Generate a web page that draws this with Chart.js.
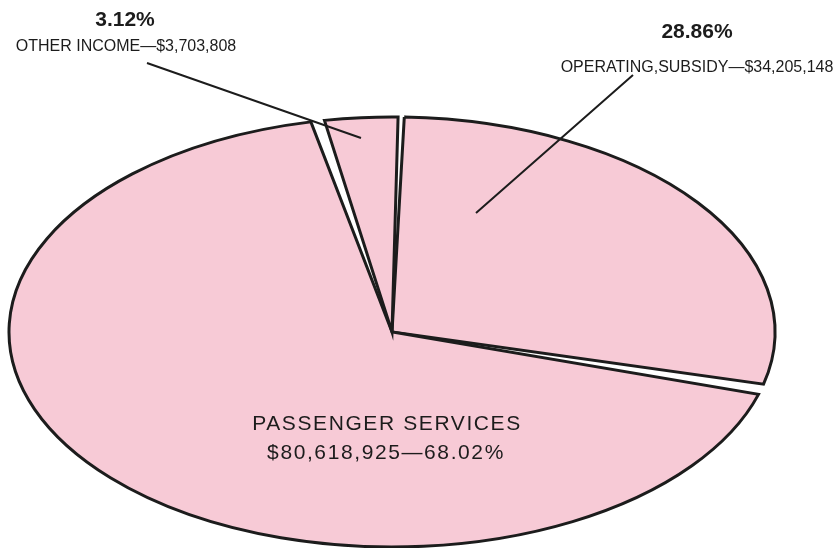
<!DOCTYPE html>
<html>
<head>
<meta charset="utf-8">
<script src="https://cdn.jsdelivr.net/npm/chart.js@4.4.1/dist/chart.umd.min.js"></script>
<style>
  html, body { margin: 0; padding: 0; background: #ffffff; }
  #wrap { width: 838px; height: 548px; position: relative; }
</style>
</head>
<body>
<div id="wrap"><canvas id="c" width="838" height="548"></canvas></div>
<script>
// ---- data (clockwise from the top) ----
const categories = ['OPERATING,SUBSIDY', 'PASSENGER SERVICES', 'OTHER INCOME'];
const amounts = [34205148, 80618925, 3703808];
const amountLabels = ['$34,205,148', '$80,618,925', '$3,703,808'];
const percentLabels = ['28.86%', '68.02%', '3.12%'];

// ---- layout / style ----
const PINK = '#F7CAD6';
const INK = '#1c1c1c';
const CX = 392;            // pie centre x (canvas px)
const RY = 215;            // vertical radius as drawn
const RX = 383;            // horizontal radius (ellipse)
const SX = RX / RY;
const SPACING = 3.5;

const ellipsePlugin = {
  id: 'ellipse',
  beforeDatasetsDraw(chart) {
    const ctx = chart.ctx;
    ctx.save();
    const base = ctx.getTransform();
    ctx.translate(CX, 0);
    ctx.scale(SX, 1);
    ctx.translate(-CX, 0);
    const proto = CanvasRenderingContext2D.prototype.stroke;
    ctx.stroke = function () {
      this.save();
      this.setTransform(base);
      proto.apply(this, arguments);
      this.restore();
    };
  },
  afterDatasetsDraw(chart) {
    const ctx = chart.ctx;
    delete ctx.stroke;
    ctx.restore();
  }
};

const labelPlugin = {
  id: 'labels',
  afterDraw(chart) {
    const ctx = chart.ctx;
    ctx.save();
    ctx.fillStyle = INK;
    ctx.strokeStyle = INK;
    ctx.textAlign = 'center';
    ctx.textBaseline = 'alphabetic';

    // Other income
    ctx.font = 'bold 21px "Liberation Sans", Arial, sans-serif';
    ctx.fillText(percentLabels[2], 125, 26);
    ctx.font = '16px "Liberation Sans", Arial, sans-serif';
    ctx.fillText(categories[2] + '\u2014' + amountLabels[2], 126, 51);

    // Operating subsidy
    ctx.font = 'bold 21px "Liberation Sans", Arial, sans-serif';
    ctx.fillText(percentLabels[0], 697, 38);
    ctx.font = '16px "Liberation Sans", Arial, sans-serif';
    ctx.fillText(categories[0] + '\u2014' + amountLabels[0], 697, 72);

    // Passenger services (inside)
    ctx.font = '21px "Liberation Sans", Arial, sans-serif';
    if ('letterSpacing' in ctx) ctx.letterSpacing = '1.6px';
    ctx.fillText(categories[1], 387, 430);
    ctx.fillText(amountLabels[1] + '\u2014' + percentLabels[1], 386, 459);
    if ('letterSpacing' in ctx) ctx.letterSpacing = '0px';

    // leader lines
    ctx.lineWidth = 2;
    ctx.lineCap = 'butt';
    ctx.beginPath();
    ctx.moveTo(147, 63); ctx.lineTo(361, 138);
    ctx.moveTo(633, 75); ctx.lineTo(476, 213);
    ctx.stroke();
    ctx.restore();
  }
};

new Chart(document.getElementById('c'), {
  type: 'pie',
  data: {
    labels: categories,
    datasets: [{
      data: amounts,
      backgroundColor: PINK,
      borderColor: INK,
      borderWidth: 3,
      borderJoinStyle: 'miter',
      spacing: SPACING
    }]
  },
  options: {
    responsive: false,
    animation: false,
    rotation: 1,
    radius: RY - SPACING / 2,
    layout: { padding: { left: 150, right: 204, top: 117, bottom: 1 } },
    plugins: { legend: { display: false }, tooltip: { enabled: false } },
    events: []
  },
  plugins: [ellipsePlugin, labelPlugin]
});
</script>
</body>
</html>
